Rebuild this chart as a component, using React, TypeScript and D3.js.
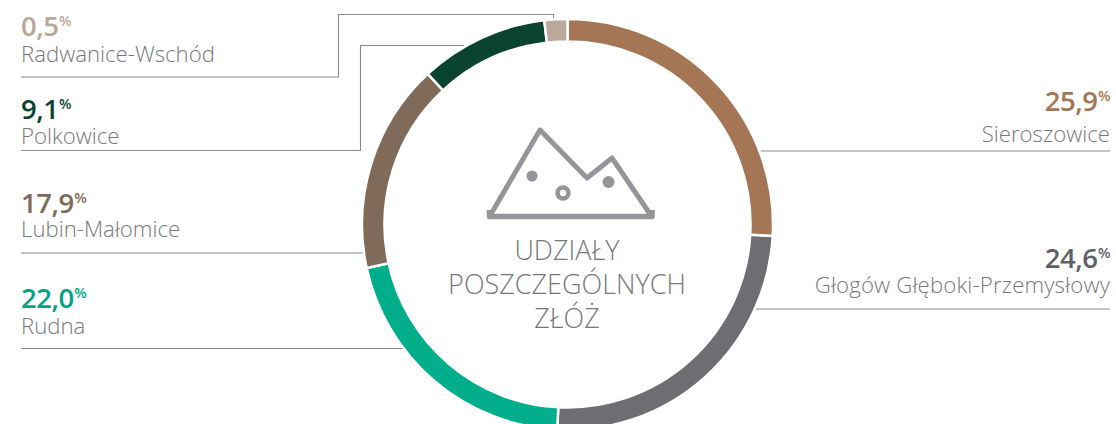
import React from "react";
import * as d3 from "d3";

const categories = ["Sieroszowice", "Głogów Głęboki-Przemysłowy", "Rudna", "Lubin-Małomice", "Polkowice", "Radwanice-Wschód"];
const labelValues = ["25,9", "24,6", "22,0", "17,9", "9,1", "0,5"];
// Share of the ring each segment occupies as drawn in the picture
const drawnShares = [25.9, 24.9, 20.8, 16.5, 10.1, 1.8];
const colors = ["#a57655", "#6d6e71", "#00ae8b", "#806a5a", "#0a4430", "#b8a998"];
const valueColors = ["#a57655", "#5f6063", "#00a483", "#806a5a", "#0a4430", "#b8a998"];
const titleLines = ["UDZIAŁY", "POSZCZEGÓLNYCH", "ZŁÓŻ"];

const W = 1116, H = 424;
const cx = 567.5, cy = 224.5, R = 205.5, r = 183;
const font = "'Open Sans', sans-serif";

type Lbl = { anchor: "start" | "end"; x: number; valueY: number; nameY: number; path: [number, number][]; nameSpacing: number };
const layout: Lbl[] = [
  { anchor: "end", x: 1110, valueY: 111, nameY: 142, path: [[1110, 151], [755, 151]], nameSpacing: 0 },
  { anchor: "end", x: 1110, valueY: 268, nameY: 293, path: [[1110, 309], [745, 309]], nameSpacing: 0.16 },
  { anchor: "start", x: 21, valueY: 308, nameY: 334, path: [[21, 348.5], [405, 348.5]], nameSpacing: 0 },
  { anchor: "start", x: 21, valueY: 213, nameY: 237, path: [[21, 253], [372, 253]], nameSpacing: 0 },
  { anchor: "start", x: 21, valueY: 119, nameY: 144, path: [[21, 150.5], [360.5, 150.5], [360.5, 45.5], [480, 45.5]], nameSpacing: 0 },
  { anchor: "start", x: 21, valueY: 36, nameY: 62, path: [[21, 77], [338.5, 77], [338.5, 14.5], [553.5, 14.5], [553.5, 24]], nameSpacing: 0 },
];

export default function App() {
  const pie = d3.pie<number>().sort(null).value((d) => d);
  const arc = d3.arc<d3.PieArcDatum<number>>().innerRadius(r).outerRadius(R);
  const arcs = pie(drawnShares);
  const line = d3.line();
  const icon = d3.line()([[491, 214], [540, 130], [587, 178], [612, 158], [650, 214]]);
  return (
    <svg width={W} height={H} viewBox={`0 0 ${W} ${H}`}
      style={{ position: "fixed", left: 0, top: 0, background: "#fff", display: "block" }}>
      {layout.map((l, i) => (
        <path key={i} d={line(l.path) ?? ""} fill="none" stroke="#8a8a8a" strokeWidth={1.1} />
      ))}
      <g transform={`translate(${cx},${cy})`}>
        {arcs.map((a, i) => (
          <path key={i} d={arc(a) ?? ""} fill={colors[i]} stroke="#fff" strokeWidth={2.5} />
        ))}
      </g>
      {layout.map((l, i) => (
        <g key={i} fontFamily={font}>
          <text x={l.x} y={l.valueY} textAnchor={l.anchor} fontSize={27.5} fontWeight={600} letterSpacing={-0.5} fill={valueColors[i]}>
            {labelValues[i]}
            <tspan fontSize={14.5} dy={-10} dx={0.5}>%</tspan>
          </text>
          <text x={l.x} y={l.nameY} textAnchor={l.anchor} fontSize={22.2} fontWeight={300} letterSpacing={l.nameSpacing} fill="#77787b">
            {categories[i]}
          </text>
        </g>
      ))}
      <path d={icon ?? ""} fill="none" stroke="#939598" strokeWidth={5} strokeLinejoin="round" />
      <path d="M489.5 210V216.5H652V210" fill="none" stroke="#939598" strokeWidth={5.5} strokeLinejoin="round" />
      <circle cx={532} cy={176} r={5.5} fill="#939598" />
      <circle cx={563} cy={193} r={5.5} fill="none" stroke="#939598" strokeWidth={4.5} />
      <circle cx={608.5} cy={182} r={6} fill="#939598" />
      {titleLines.map((t, i) => (
        <text key={t} x={567} y={259.5 + i * 34} textAnchor="middle" fontFamily={font} fontWeight={300}
          fontSize={27} fill="#77787b">{t}</text>
      ))}
    </svg>
  );
}
